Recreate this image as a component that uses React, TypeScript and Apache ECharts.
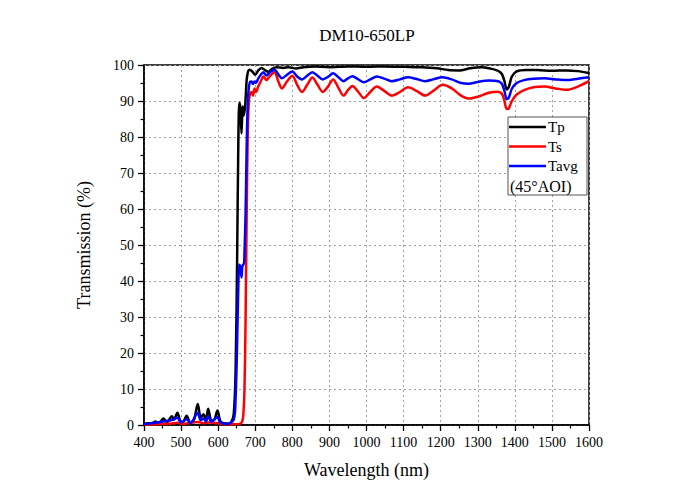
import React, { useEffect, useRef } from "react";
import * as echarts from "echarts";

const titleText = "DM10-650LP";
const xName = "Wavelength (nm)";
const yName = "Transmission (%)";
const seriesNames = ["Tp", "Ts", "Tavg"];
const noteText = "(45°AOI)";

const tpWl = [400, 410, 420, 430, 440, 452, 462, 475, 481, 490, 500, 507, 515, 525, 535, 545, 553, 560, 567, 573, 582, 590, 598, 606, 615, 625, 635, 642, 647, 651, 654, 657, 660, 663, 666, 669, 673, 677, 681, 685, 692, 700, 708, 717, 726, 735, 746, 757, 775, 790, 810, 830, 860, 900, 950, 1000, 1050, 1100, 1150, 1190, 1220, 1250, 1280, 1310, 1335, 1355, 1365, 1372, 1378, 1384, 1392, 1405, 1430, 1460, 1500, 1540, 1570, 1600];
const tpVal = [0.2, 0.5, 0.3, 1.0, 0.4, 1.8, 0.8, 2.4, 1.5, 3.4, 0.8, 1.0, 2.6, 0.6, 1.5, 5.8, 2.0, 3.0, 1.5, 4.5, 1.2, 1.5, 4.0, 1.0, 0.5, 0.4, 0.8, 3, 15, 45, 75, 89.5, 88, 81, 88.5, 86, 89, 96, 98.3, 98.7, 98.2, 97.3, 98.5, 99.2, 98.6, 98.1, 99, 99.4, 99.2, 99.4, 99, 99.4, 99.6, 99.4, 99.6, 99.5, 99.6, 99.5, 99.4, 99.1, 98.6, 98.5, 99.1, 99.4, 99, 98.4, 97.5, 95.5, 93.2, 94, 96.8, 98.2, 98.6, 98.6, 98.4, 98.5, 98.3, 97.8];

const tsWl = [400, 430, 455, 475, 490, 505, 520, 545, 560, 575, 600, 620, 645, 660, 665, 668, 671, 674, 677, 680, 683, 686, 690, 694, 698, 702, 708, 715, 722, 730, 740, 752, 762, 772, 786, 800, 813, 826, 840, 854, 868, 882, 896, 910, 925, 938, 950, 962, 978, 993, 1010, 1028, 1048, 1068, 1090, 1112, 1135, 1158, 1180, 1205, 1230, 1255, 1275, 1300, 1330, 1355, 1365, 1372, 1378, 1384, 1392, 1405, 1425, 1450, 1480, 1510, 1540, 1570, 1600];
const tsVal = [0.1, 0.2, 0.3, 0.4, 0.6, 0.3, 0.5, 0.8, 0.5, 0.7, 0.5, 0.2, 0.2, 0.4, 1, 3, 10, 30, 60, 82, 90, 92, 92.5, 91.5, 93.5, 92.5, 94, 95.5, 96.8, 95.8, 97, 98, 95.5, 93.5, 95.5, 97, 94.5, 92.5, 94.5, 96.5, 94.5, 92.5, 94, 96, 93.5, 91.5, 93, 94.2, 92.5, 90.8, 92.5, 94, 92.8, 91.5, 92.5, 93.8, 92.8, 91.5, 92.8, 94.5, 93.5, 91.5, 90.7, 91.2, 92.3, 92.6, 92, 90, 87.8, 88, 90, 91.8, 93, 93.8, 94, 93.5, 93.1, 94, 95.5];

const tavgWl = [400, 430, 452, 475, 490, 500, 515, 525, 545, 553, 560, 567, 573, 582, 598, 606, 625, 642, 647, 651, 654, 657, 660, 663, 666, 669, 671, 674, 677, 680, 683, 686, 690, 694, 698, 702, 708, 715, 722, 730, 740, 752, 762, 772, 786, 800, 813, 826, 840, 854, 868, 882, 896, 910, 925, 938, 950, 962, 978, 993, 1010, 1028, 1048, 1068, 1090, 1112, 1135, 1158, 1180, 1205, 1230, 1255, 1275, 1300, 1330, 1355, 1365, 1372, 1378, 1384, 1392, 1405, 1425, 1450, 1480, 1510, 1540, 1570, 1600];
const tavgVal = [0.2, 0.6, 1.0, 1.4, 2.0, 0.7, 1.6, 0.5, 3.3, 1.3, 1.8, 1.0, 2.5, 0.9, 2.2, 0.7, 0.3, 1.5, 7.5, 22, 37, 44.5, 44, 41, 44.5, 44.5, 48, 59, 78, 90, 94, 95.3, 95.4, 94.7, 95.4, 95, 96.2, 97.3, 98, 97.1, 98, 98.7, 97.4, 96.3, 97.3, 98.2, 96.8, 96, 97, 98, 97, 96, 96.7, 97.7, 96.5, 95.5, 96.3, 96.9, 96, 95.2, 96, 96.8, 96.2, 95.5, 96, 96.6, 96.1, 95.5, 96, 96.6, 96, 95, 94.8, 95.3, 95.7, 95.5, 94.8, 92.8, 90.5, 91, 93.4, 95, 95.8, 96.2, 96.3, 96, 95.8, 96.2, 96.6];

const colors = ["#000000", "#ff0000", "#0000ff"];
const FONT = "'Liberation Serif', 'Times New Roman', serif";

const zip = (xs: number[], ys: number[]) => xs.map((x, i) => [x, ys[i]]);

export default function App() {
  const ref = useRef<HTMLDivElement>(null);
  useEffect(() => {
    if (!ref.current) return;
    const chart = echarts.init(ref.current, null, { renderer: "svg" });
    const axisCommon = {
      nameLocation: "middle" as const,
      nameTextStyle: { fontFamily: FONT, fontSize: 18, color: "#000" },
      axisLine: { show: true, lineStyle: { color: "#000", width: 1.5 } },
      axisTick: { show: true, inside: false, length: 6, lineStyle: { color: "#000", width: 1.3 } },
      minorTick: { show: true, splitNumber: 2, length: 3.5, lineStyle: { color: "#000", width: 1.2 } },
      axisLabel: { fontFamily: FONT, fontSize: 14, color: "#000", margin: 10, formatter: (v: number) => String(v) },
      splitLine: { show: true, lineStyle: { color: "#a0a0a0", width: 1, type: [2, 3] } },
    };
    const datasets = [zip(tpWl, tpVal), zip(tsWl, tsVal), zip(tavgWl, tavgVal)];
    chart.setOption({
      animation: false,
      backgroundColor: "#fff",
      title: {
        text: titleText,
        left: 362,
        top: 22,
        textAlign: "center",
        textStyle: { fontFamily: FONT, fontSize: 17, fontWeight: "normal", color: "#000" },
      },
      grid: { left: 144, right: 111, top: 65, bottom: 73, show: true, borderColor: "#000", borderWidth: 1.5, backgroundColor: "transparent" },
      xAxis: {
        ...axisCommon,
        type: "value",
        min: 400,
        max: 1600,
        interval: 100,
        name: xName,
        nameGap: 36,
      },
      yAxis: {
        ...axisCommon,
        type: "value",
        min: 0,
        max: 100,
        interval: 10,
        name: yName,
        nameGap: 51,
      },
      legend: {
        data: seriesNames,
        orient: "vertical",
        left: 509,
        top: 119.5,
        icon: "rect",
        itemWidth: 37,
        itemHeight: 2.6,
        itemGap: 4.5,
        textStyle: { fontFamily: FONT, fontSize: 15, lineHeight: 15, color: "#000", padding: [0, 0, 0, -3] },
        padding: 0,
      },
      graphic: [
        {
          type: "rect",
          shape: { x: 508, y: 117, width: 79, height: 78 },
          style: { fill: "#fff", stroke: "#555", lineWidth: 1 },
          z: 3,
        },
        {
          type: "text",
          x: 510,
          y: 186,
          style: { text: noteText, font: `16px ${FONT}`, fill: "#000", verticalAlign: "middle" },
          z: 10,
        },
      ],
      series: seriesNames.map((name, i) => ({
        name,
        type: "line",
        data: datasets[i],
        symbol: "none",
        smooth: 0.3,
        lineStyle: { color: colors[i], width: 2.5 },
        itemStyle: { color: colors[i] },
        z: 2 + i,
      })),
    });
    return () => chart.dispose();
  }, []);
  return <div ref={ref} style={{ width: 700, height: 498, position: "absolute", left: 0, top: 0 }} />;
}
